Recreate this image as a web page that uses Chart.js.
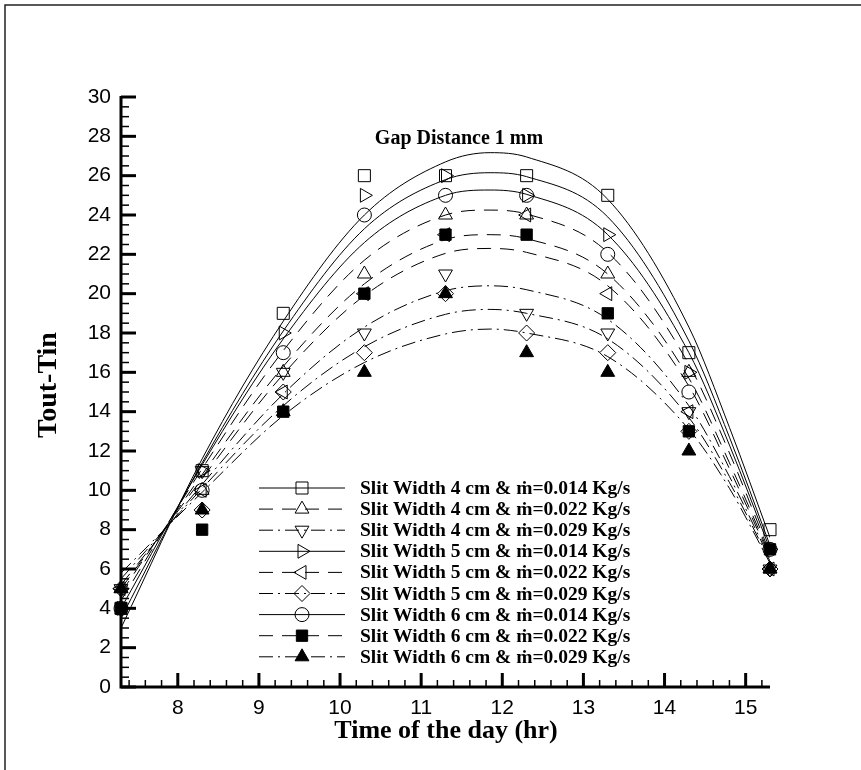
<!DOCTYPE html>
<html lang="en">
<head>
<meta charset="utf-8" />
<title>Gap Distance 1 mm</title>
<style>
  * { margin: 0; padding: 0; }
  body { background: #fff; }
  canvas { display: block; }
</style>
</head>
<body>
<canvas id="myChart" width="861" height="770"></canvas>
<script src="https://cdn.jsdelivr.net/npm/chart.js"></script>
<script>
// measured points, time of day (hr)
const hours = [7.3, 8.3, 9.3, 10.3, 11.3, 12.3, 13.3, 14.3, 15.3];
const xTicks = [8, 9, 10, 11, 12, 13, 14, 15];
const yTicks = [0, 2, 4, 6, 8, 10, 12, 14, 16, 18, 20, 22, 24, 26, 28, 30];

const w4_014 = [4, 11, 19, 26, 26, 26, 25, 17, 8];
const w4_022 = [5, 10, 16, 21, 24, 24, 21, 16, 6];
const w4_029 = [5, 11, 16, 18, 21, 19, 18, 14, 6];
const w5_014 = [4, 11, 18, 25, 26, 25, 23, 16, 7];
const w5_022 = [5, 10, 15, 20, 23, 24, 20, 14, 6];
const w5_029 = [5, 9, 15, 17, 20, 18, 17, 13, 6];
const w6_014 = [4, 10, 17, 24, 25, 25, 22, 15, 7];
const w6_022 = [4, 8, 14, 20, 23, 23, 19, 13, 7];
const w6_029 = [5, 9, 14, 16, 20, 17, 16, 12, 6];

// fitted curves
const fitHours = [7.3, 8.3, 9.3, 10.3, 11.3, 11.85, 12.3, 13.3, 14.3, 14.8, 15.3];
const fit4_014 = [3.0, 11.6, 18.6, 24.0, 26.7, 27.17, 26.95, 24.8, 18.3, 13.2, 7.6];
const fit4_022 = [4.4, 11.1, 17.1, 21.7, 24.0, 24.25, 24.05, 22.1, 16.4, 11.9, 6.8];
const fit4_029 = [5.2, 10.3, 14.9, 18.3, 20.15, 20.4, 20.2, 18.7, 14.3, 10.7, 6.5];
const fit5_014 = [3.5, 11.4, 18.1, 23.3, 25.8, 26.15, 25.95, 23.9, 17.6, 12.7, 7.2];
const fit5_022 = [5.0, 10.6, 15.9, 19.9, 22.05, 22.3, 22.1, 20.4, 15.3, 11.1, 6.6];
const fit5_029 = [5.5, 10.1, 14.3, 17.3, 18.95, 19.2, 19.0, 17.7, 13.7, 10.4, 6.4];
const fit6_014 = [4.0, 11.3, 17.7, 22.6, 25.0, 25.27, 25.05, 23.0, 17.0, 12.3, 7.0];
const fit6_022 = [4.8, 10.8, 16.3, 20.5, 22.75, 23.0, 22.8, 21.0, 15.7, 11.4, 6.7];
const fit6_029 = [5.8, 9.9, 13.8, 16.5, 17.95, 18.2, 18.0, 16.8, 13.1, 10.1, 6.3];

const seriesLabels = [
  "Slit Width 4 cm & \u1E41=0.014 Kg/s",
  "Slit Width 4 cm & \u1E41=0.022 Kg/s",
  "Slit Width 4 cm & \u1E41=0.029 Kg/s",
  "Slit Width 5 cm & \u1E41=0.014 Kg/s",
  "Slit Width 5 cm & \u1E41=0.022 Kg/s",
  "Slit Width 5 cm & \u1E41=0.029 Kg/s",
  "Slit Width 6 cm & \u1E41=0.014 Kg/s",
  "Slit Width 6 cm & \u1E41=0.022 Kg/s",
  "Slit Width 6 cm & \u1E41=0.029 Kg/s",
];
const seriesPoints = [w4_014, w4_022, w4_029, w5_014, w5_022, w5_029, w6_014, w6_022, w6_029];
const seriesFits = [fit4_014, fit4_022, fit4_029, fit5_014, fit5_022, fit5_029, fit6_014, fit6_022, fit6_029];

const SOLID = [];
const DASH = [14, 9];
const DASHDOT = [14, 5, 2, 5];
const markers = [
  { style: "rect", r: 8.5, rot: 0, fill: false, dash: SOLID },
  { style: "triangle", r: 8, rot: 0, fill: false, dash: DASH },
  { style: "triangle", r: 8, rot: 180, fill: false, dash: DASHDOT },
  { style: "triangle", r: 8, rot: 90, fill: false, dash: SOLID },
  { style: "triangle", r: 8, rot: 270, fill: false, dash: DASH },
  { style: "rectRot", r: 8, rot: 0, fill: false, dash: DASHDOT },
  { style: "circle", r: 7, rot: 0, fill: false, dash: SOLID },
  { style: "rect", r: 8, rot: 0, fill: true, dash: DASH },
  { style: "triangle", r: 8, rot: 0, fill: true, dash: DASHDOT },
];

const datasets = [];
seriesLabels.forEach((label, i) => {
  const m = markers[i];
  datasets.push({
    label: label,
    data: hours.map((h, k) => ({ x: h, y: seriesPoints[i][k] })),
    showLine: false,
    pointStyle: m.style,
    pointRadius: m.r,
    pointRotation: m.rot,
    pointBackgroundColor: m.fill ? "#000" : "rgba(0,0,0,0)",
    pointBorderColor: "#000",
    pointBorderWidth: 1,
    clip: false,
  });
  datasets.push({
    label: label + " fit",
    data: fitHours.map((h, k) => ({ x: h, y: seriesFits[i][k] })),
    borderColor: "#000",
    borderWidth: 1,
    borderDash: m.dash,
    pointRadius: 0,
    cubicInterpolationMode: "monotone",
    fill: false,
  });
});

function drawMarker(ctx, m, x, y) {
  const r = m.r;
  ctx.save();
  ctx.translate(x, y);
  ctx.rotate((m.rot * Math.PI) / 180);
  ctx.beginPath();
  if (m.style === "circle") {
    ctx.arc(0, 0, r, 0, Math.PI * 2);
  } else if (m.style === "rect") {
    const s = r / Math.SQRT2;
    ctx.rect(-s, -s, 2 * s, 2 * s);
  } else if (m.style === "rectRot") {
    ctx.moveTo(0, -r);
    ctx.lineTo(r, 0);
    ctx.lineTo(0, r);
    ctx.lineTo(-r, 0);
    ctx.closePath();
  } else {
    for (let k = 0; k < 3; k++) {
      const a = -Math.PI / 2 + (k * 2 * Math.PI) / 3;
      const px = r * Math.cos(a);
      const py = r * Math.sin(a);
      if (k === 0) ctx.moveTo(px, py);
      else ctx.lineTo(px, py);
    }
    ctx.closePath();
  }
  ctx.setLineDash([]);
  ctx.lineWidth = 1;
  ctx.strokeStyle = "#000";
  if (m.fill) {
    ctx.fillStyle = "#000";
    ctx.fill();
  }
  ctx.stroke();
  ctx.restore();
}

const axesAndTicks = {
  id: "axesAndTicks",
  beforeDatasetsDraw(chart) {
    const { ctx, chartArea, scales: { x, y } } = chart;
    const { left, right, top, bottom } = chartArea;
    ctx.save();
    ctx.strokeStyle = "#000";
    // y ticks, pointing into the plot
    for (let v = 0; v <= 30; v += 0.5) {
      const py = y.getPixelForValue(v);
      const major = v % 2 === 0;
      ctx.lineWidth = major ? 3 : 1.5;
      ctx.beginPath();
      ctx.moveTo(left, py);
      ctx.lineTo(left + (major ? 15 : 8), py);
      ctx.stroke();
    }
    // x ticks
    for (let k = 37; k <= 76; k++) {
      const v = k / 5;
      const px = x.getPixelForValue(v);
      const major = k % 5 === 0;
      ctx.lineWidth = major ? 3 : 1.5;
      ctx.beginPath();
      ctx.moveTo(px, bottom);
      ctx.lineTo(px, bottom - (major ? 14 : 7));
      ctx.stroke();
    }
    // axis lines
    ctx.lineWidth = 3;
    ctx.beginPath();
    ctx.moveTo(left, top - 1);
    ctx.lineTo(left, bottom);
    ctx.lineTo(right, bottom);
    ctx.stroke();
    ctx.restore();
  },
  afterDraw(chart) {
    const { ctx } = chart;
    ctx.save();
    // frame
    ctx.strokeStyle = "#222";
    ctx.lineWidth = 1.5;
    ctx.beginPath();
    ctx.moveTo(5, 770);
    ctx.lineTo(5, 5);
    ctx.lineTo(861, 5);
    ctx.stroke();

    ctx.fillStyle = "#000";
    ctx.textAlign = "center";
    ctx.textBaseline = "middle";
    ctx.font = "bold 20px 'Liberation Serif', serif";
    ctx.fillText("Gap Distance 1 mm", 459, 139);
    ctx.font = "bold 26px 'Liberation Serif', serif";
    ctx.fillText("Time of the day (hr)", 446, 731);
    ctx.save();
    ctx.translate(49, 385);
    ctx.rotate(-Math.PI / 2);
    ctx.font = "bold 28px 'Liberation Serif', serif";
    ctx.fillText("Tout-Tin", 0, 0);
    ctx.restore();

    // legend: line, marker in the middle, label
    ctx.font = "bold 19.5px 'Liberation Serif', serif";
    ctx.textAlign = "left";
    seriesLabels.forEach((label, i) => {
      const m = markers[i];
      const ly = 488 + i * 21.1;
      ctx.save();
      ctx.strokeStyle = "#000";
      ctx.lineWidth = 1;
      ctx.setLineDash(m.dash);
      ctx.beginPath();
      ctx.moveTo(259, ly);
      ctx.lineTo(345, ly);
      ctx.stroke();
      ctx.restore();
      drawMarker(ctx, m, 302, ly);
      ctx.fillStyle = "#000";
      ctx.fillText(label, 360, ly + 1);
    });
    ctx.restore();
  },
};

const config = {
  type: "line",
  data: { datasets: datasets },
  options: {
    responsive: false,
    animation: false,
    events: [],
    layout: { padding: { top: 97, right: 91, left: 0, bottom: 0 } },
    plugins: {
      legend: { display: false },
      tooltip: { enabled: false },
    },
    scales: {
      x: {
        type: "linear",
        min: 7.3,
        max: 15.3,
        afterBuildTicks: (s) => {
          s.ticks = xTicks.map((v) => ({ value: v }));
        },
        afterFit: (s) => {
          s.height = 83;
        },
        grid: { display: false, drawTicks: false },
        border: { display: false },
        ticks: {
          autoSkip: false,
          maxRotation: 0,
          padding: 9,
          color: "#000",
          font: { family: "'Liberation Sans', Arial, sans-serif", size: 21 },
        },
      },
      y: {
        type: "linear",
        min: 0,
        max: 30,
        afterBuildTicks: (s) => {
          s.ticks = yTicks.map((v) => ({ value: v }));
        },
        afterFit: (s) => {
          s.width = 121;
        },
        grid: { display: false, drawTicks: false },
        border: { display: false },
        ticks: {
          autoSkip: false,
          padding: 10,
          color: "#000",
          font: { family: "'Liberation Sans', Arial, sans-serif", size: 21 },
        },
      },
    },
  },
  plugins: [axesAndTicks],
};

const myChart = new Chart(document.getElementById("myChart"), config);
</script>
</body>
</html>
